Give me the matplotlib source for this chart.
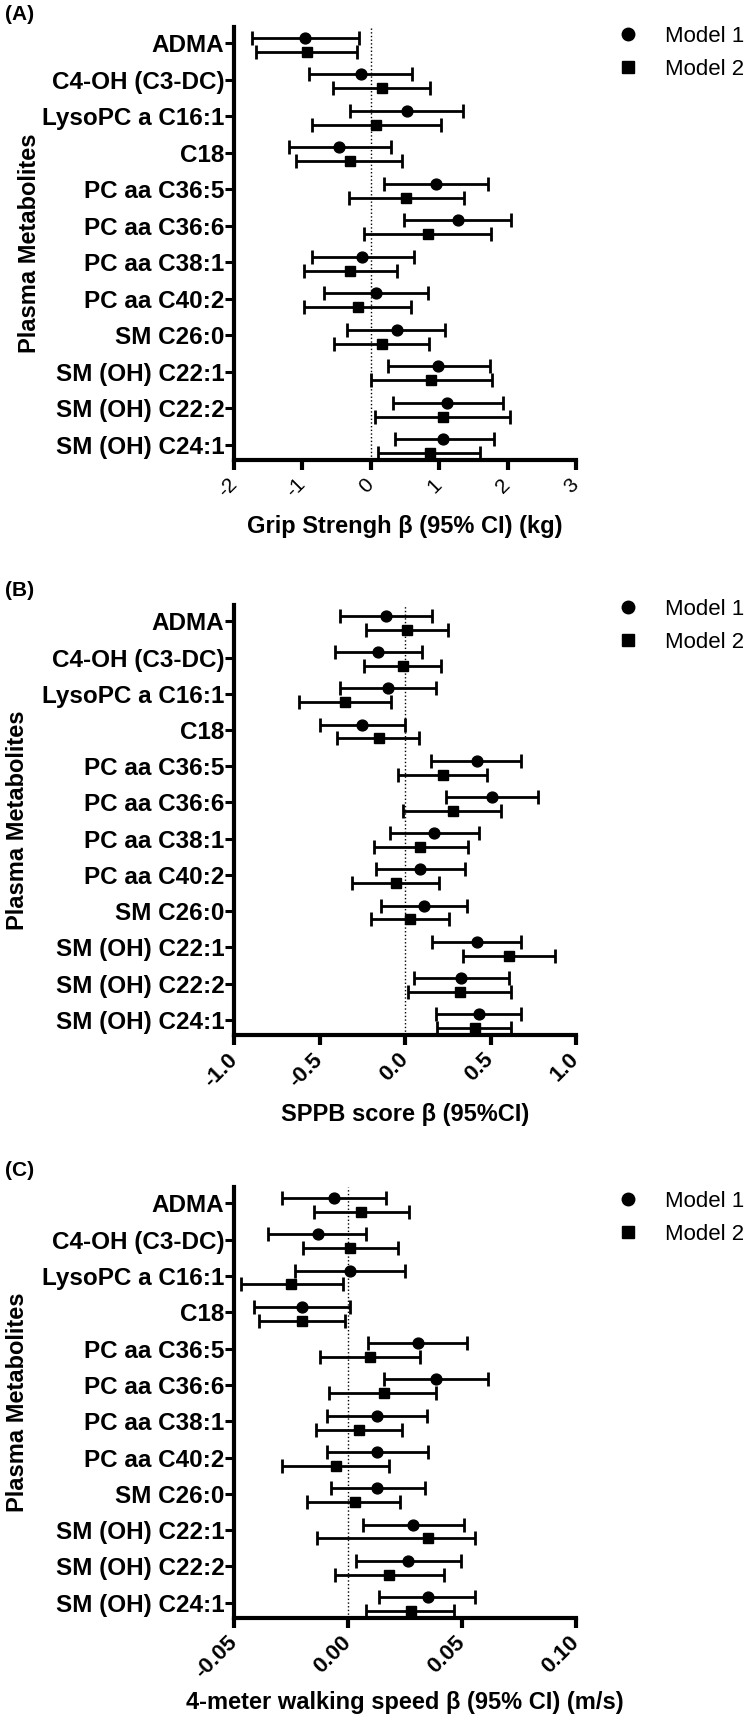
import numpy as np
import matplotlib
matplotlib.use("Agg")
import matplotlib.pyplot as plt
from matplotlib.lines import Line2D

plt.rcParams['font.family'] = ['Liberation Sans', 'DejaVu Sans']

metabolites = ["ADMA", "C4-OH (C3-DC)", "LysoPC a C16:1", "C18", "PC aa C36:5",
               "PC aa C36:6", "PC aa C38:1", "PC aa C40:2", "SM C26:0",
               "SM (OH) C22:1", "SM (OH) C22:2", "SM (OH) C24:1"]

# (A) grip strength
grip_m1 = [-0.96, -0.15, 0.53, -0.46, 0.96, 1.27, -0.13, 0.07, 0.38, 0.98, 1.12, 1.06]
grip_m1_lo = [-1.74, -0.90, -0.31, -1.19, 0.20, 0.49, -0.86, -0.68, -0.35, 0.25, 0.33, 0.35]
grip_m1_hi = [-0.17, 0.60, 1.35, 0.29, 1.72, 2.05, 0.63, 0.83, 1.08, 1.74, 1.94, 1.80]
grip_m2 = [-0.94, 0.16, 0.07, -0.31, 0.51, 0.83, -0.30, -0.19, 0.16, 0.88, 1.05, 0.86]
grip_m2_lo = [-1.68, -0.55, -0.86, -1.10, -0.32, -0.10, -0.97, -0.97, -0.54, 0.00, 0.06, 0.11]
grip_m2_hi = [-0.20, 0.86, 1.03, 0.46, 1.36, 1.75, 0.38, 0.59, 0.85, 1.77, 2.04, 1.60]

# (B) SPPB score
sppb_m1 = [-0.11, -0.16, -0.10, -0.25, 0.42, 0.51, 0.17, 0.09, 0.11, 0.42, 0.33, 0.43]
sppb_m1_lo = [-0.38, -0.41, -0.38, -0.50, 0.15, 0.24, -0.09, -0.17, -0.14, 0.16, 0.05, 0.18]
sppb_m1_hi = [0.16, 0.10, 0.18, 0.00, 0.68, 0.78, 0.43, 0.35, 0.36, 0.68, 0.61, 0.68]
sppb_m2 = [0.01, -0.01, -0.35, -0.15, 0.22, 0.28, 0.09, -0.05, 0.03, 0.61, 0.32, 0.41]
sppb_m2_lo = [-0.23, -0.24, -0.62, -0.40, -0.04, -0.01, -0.18, -0.31, -0.20, 0.34, 0.02, 0.19]
sppb_m2_hi = [0.25, 0.21, -0.08, 0.08, 0.48, 0.56, 0.37, 0.20, 0.26, 0.88, 0.62, 0.62]

# (C) 4-meter walking speed
walk_m1 = [-0.0060, -0.0131, 0.0008, -0.0201, 0.0307, 0.0386, 0.0128, 0.0128, 0.0128, 0.0287, 0.0265, 0.0349]
walk_m1_lo = [-0.0290, -0.0349, -0.0232, -0.0413, 0.0087, 0.0160, -0.0090, -0.0090, -0.0074, 0.0067, 0.0034, 0.0138]
walk_m1_hi = [0.0168, 0.0079, 0.0248, 0.0007, 0.0523, 0.0616, 0.0347, 0.0349, 0.0336, 0.0507, 0.0497, 0.0559]
walk_m2 = [0.0057, 0.0007, -0.0252, -0.0201, 0.0097, 0.0158, 0.0047, -0.0054, 0.0029, 0.0349, 0.0178, 0.0275]
walk_m2_lo = [-0.0150, -0.0198, -0.0470, -0.0390, -0.0122, -0.0082, -0.0141, -0.0290, -0.0181, -0.0134, -0.0055, 0.0079]
walk_m2_hi = [0.0268, 0.0220, -0.0020, -0.0012, 0.0317, 0.0388, 0.0238, 0.0178, 0.0230, 0.0559, 0.0420, 0.0466]

grip_ticks = [-2, -1, 0, 1, 2, 3]
grip_ticklabels = ["-2", "-1", "0", "1", "2", "3"]
sppb_ticks = [-1.0, -0.5, 0.0, 0.5, 1.0]
sppb_ticklabels = ["-1.0", "-0.5", "0.0", "0.5", "1.0"]
walk_ticks = [-0.05, 0.0, 0.05, 0.10]
walk_ticklabels = ["-0.05", "0.00", "0.05", "0.10"]

W, H = 748, 1721


def px(x, y):
    # pixel position (from top-left) -> figure fraction
    return x / W, 1 - y / H


def forest(fig, rect, m1, m1_lo, m1_hi, m2, m2_lo, m2_hi, ticks, ticklabels,
           xlabel, xlabel_y, tick_bold, tick_size):
    ax = fig.add_axes(rect)
    y = np.arange(len(metabolites))
    m1, m2 = np.array(m1), np.array(m2)
    err1 = [m1 - np.array(m1_lo), np.array(m1_hi) - m1]
    err2 = [m2 - np.array(m2_lo), np.array(m2_hi) - m2]

    ax.axvline(0, color='k', ls=':', lw=1.0, zorder=1)
    ax.errorbar(m1, y - 0.15, xerr=err1, fmt='o', color='k', ms=7.8,
                elinewidth=2, capsize=5, capthick=2, zorder=3)
    ax.errorbar(m2, y + 0.23, xerr=err2, fmt='s', color='k', ms=7.8,
                elinewidth=2, capsize=5, capthick=2, zorder=3)

    ax.set_ylim(len(metabolites) - 1 + 0.42, -0.45)
    ax.set_xlim(ticks[0], ticks[-1])
    ax.set_yticks(y)
    ax.set_yticklabels(metabolites, fontsize=17.5, fontweight='bold')
    ax.set_xticks(ticks)
    ax.set_xticklabels(ticklabels, rotation=45, ha='right', va='center',
                       rotation_mode='anchor', fontsize=tick_size,
                       fontweight='bold' if tick_bold else 'normal')

    for side in ['top', 'right']:
        ax.spines[side].set_visible(False)
    for side in ['left', 'bottom']:
        ax.spines[side].set_linewidth(3)
    ax.tick_params(axis='y', length=6.5, width=2.2, pad=0.5)
    ax.tick_params(axis='x', length=7.5, width=3, pad=8)

    ax.set_xlabel(xlabel, fontsize=17, fontweight='bold')
    bottom_px = (1 - rect[1]) * H
    ax.xaxis.set_label_coords(0.5, -(xlabel_y - bottom_px) / (rect[3] * H))
    ax.xaxis.label.set_va('center')
    return ax


def add_legend(fig, top_px):
    handles = [Line2D([], [], marker='o', ls='none', color='k', ms=9),
               Line2D([], [], marker='s', ls='none', color='k', ms=8)]
    fig.legend(handles, ["Model 1", "Model 2"], loc='upper left',
               bbox_to_anchor=px(617, top_px), frameon=False, fontsize=16,
               borderpad=0, handlelength=1, handletextpad=1.15,
               labelspacing=0.55, borderaxespad=0)


def main():
    fig = plt.figure(figsize=(W / 100, H / 100), dpi=100)

    left = 234 / W
    width = 342 / W

    # panel rectangles from pixel top/bottom of the plotting area
    panels = [(27, 460), (605, 1035), (1187, 1618)]
    rects = [[left, 1 - b / H, width, (b - t) / H] for t, b in panels]

    forest(fig, rects[0], grip_m1, grip_m1_lo, grip_m1_hi, grip_m2, grip_m2_lo,
           grip_m2_hi, grip_ticks, grip_ticklabels,
           "Grip Strengh β (95% CI) (kg)", 527, False, 15)
    forest(fig, rects[1], sppb_m1, sppb_m1_lo, sppb_m1_hi, sppb_m2, sppb_m2_lo,
           sppb_m2_hi, sppb_ticks, sppb_ticklabels,
           "SPPB score β (95%CI)", 1115, True, 16)
    forest(fig, rects[2], walk_m1, walk_m1_lo, walk_m1_hi, walk_m2, walk_m2_lo,
           walk_m2_hi, walk_ticks, walk_ticklabels,
           "4-meter walking speed β (95% CI) (m/s)", 1703, True, 16)

    for (t, b), xl in zip(panels, [30, 18, 18]):
        fig.text(*px(xl, (t + b) / 2), "Plasma Metabolites", rotation=90,
                 ha='center', va='center', fontsize=17, fontweight='bold')

    for lab, ypx in zip(["(A)", "(B)", "(C)"], [14, 590, 1171]):
        fig.text(*px(5, ypx), lab, ha='left', va='center', fontsize=15,
                 fontweight='bold')

    for top in [26, 599, 1191]:
        add_legend(fig, top)

    fig.savefig("out.png", dpi=100)
    plt.close('all')


if __name__ == '__main__':
    main()
